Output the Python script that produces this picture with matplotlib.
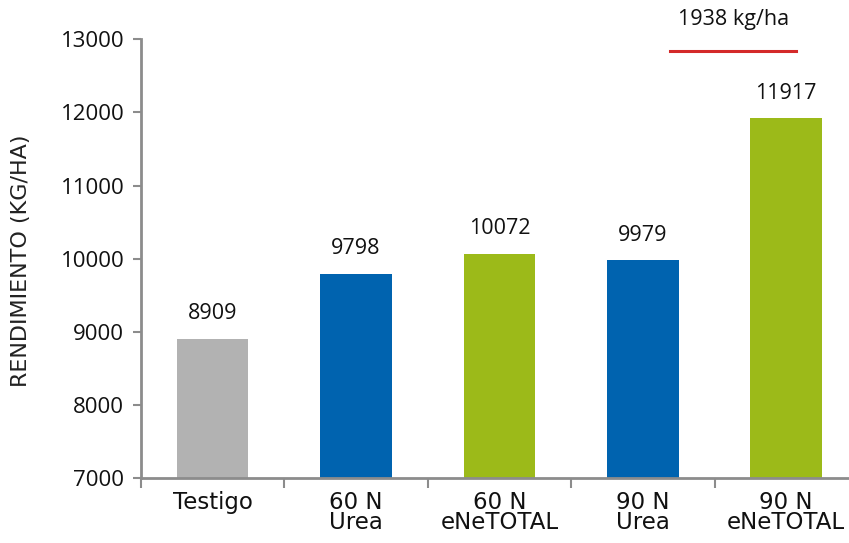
import matplotlib
matplotlib.use("Agg")
import matplotlib.pyplot as plt
import numpy as np

# datos
categorias = ["Testigo", "60 N\nUrea", "60 N\neNeTOTAL", "90 N\nUrea", "90 N\neNeTOTAL"]
rendimiento = [8909, 9798, 10072, 9979, 11917]
colores = ["#b2b2b2", "#0063af", "#9cba19", "#0063af", "#9cba19"]
diferencia = "1938 kg/ha"

plt.rcParams["font.family"] = ["Open Sans", "DejaVu Sans"]
gris = "#8c8c8c"
texto = "#111111"

fig = plt.figure(figsize=(8.49, 5.43), dpi=100)
ax = fig.add_axes([0.166, 0.1188, 0.8445, 0.809])

x = np.arange(len(categorias))
ax.bar(x, rendimiento, width=0.5, color=colores, zorder=2)

for xi, v in zip(x, rendimiento):
    ax.annotate(str(v), (xi, v), xytext=(0, 18), textcoords="offset points",
                ha="center", va="center", fontsize=15.5, color=texto)

# linea de diferencia
ax.plot([3.19, 4.07], [12843, 12843], color="#d42a2a", lw=2.2, clip_on=False)
ax.text(3.63, 13270, diferencia, ha="center", va="center", fontsize=15.5,
        color=texto, clip_on=False)

ax.set_xlim(-0.5, len(categorias) - 0.5)
ax.set_ylim(7000, 13000)
ax.set_yticks(np.arange(7000, 13001, 1000))
ax.set_xticks(x)
ax.set_xticklabels(categorias, fontsize=16.5, linespacing=0.85,
                   family=["Liberation Sans Narrow", "DejaVu Sans"], color=texto)
ax.set_xticks(np.arange(-0.5, len(categorias)), minor=True)
ax.tick_params(axis="x", which="major", length=0, pad=9)
ax.tick_params(axis="x", which="minor", length=7, width=1.5, color=gris, direction="out")
ax.tick_params(axis="y", length=6, width=1.5, color=gris, labelsize=16, pad=6,
               labelcolor=texto)

for s in ["top", "right"]:
    ax.spines[s].set_visible(False)
for s in ["left", "bottom"]:
    ax.spines[s].set_color(gris)
    ax.spines[s].set_linewidth(2)

ax.set_ylabel("RENDIMIENTO (KG/HA)", fontsize=16, color="#222222",
              family=["DejaVu Sans"])
ax.yaxis.set_label_coords(-0.153, 0.495)

plt.savefig("out.png", dpi=100)
